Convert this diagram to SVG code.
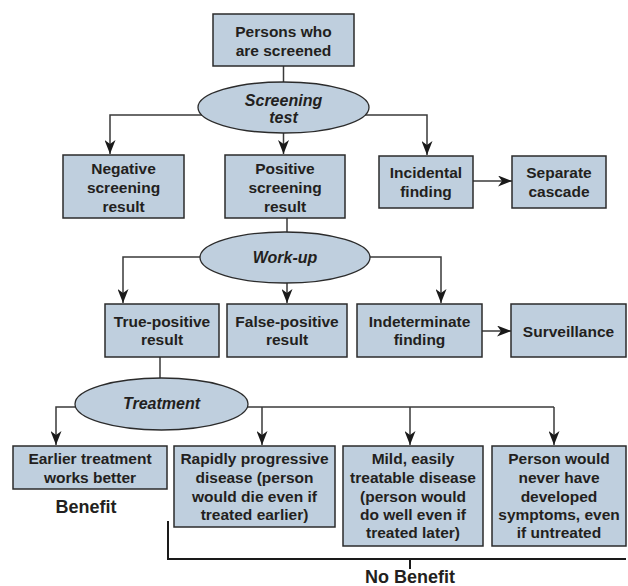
<svg xmlns="http://www.w3.org/2000/svg" width="628" height="586" viewBox="0 0 628 586">
<defs>
<marker id="ah" markerUnits="userSpaceOnUse" markerWidth="14" markerHeight="11" refX="14" refY="5.5" orient="auto">
<path d="M0,0 L14,5.5 L0,11 L4,5.5 Z" fill="#1a1a1a"/>
</marker>
<style>
.box{fill:#bfcfde;stroke:#2b2b2b;stroke-width:1.5}
.ell{fill:#bfcfde;stroke:#2b2b2b;stroke-width:1.3}
.t{font-family:"Liberation Sans",Arial,sans-serif;font-weight:bold;font-size:15.5px;fill:#231f20;text-anchor:middle}
.i{font-style:italic;font-size:16px}
.big{font-size:18px}
.c{fill:none;stroke:#3a3a3a;stroke-width:1.5}
.a{marker-end:url(#ah)}
.br{fill:none;stroke:#1a1a1a;stroke-width:2}
</style>
</defs>
<rect width="628" height="586" fill="#ffffff"/>
<g id="connectors">
<path class="c" d="M283.5,66 V82"/>
<path class="c a" d="M202,115 H110 V154"/>
<path class="c a" d="M283.5,133 V154"/>
<path class="c a" d="M365,115 H427 V155"/>
<path class="c a" d="M473,181 H512"/>
<path class="c" d="M287,218 V232"/>
<path class="c a" d="M200,257 H123 V303"/>
<path class="c a" d="M287,283 V303"/>
<path class="c a" d="M370,257 H441 V303"/>
<path class="c a" d="M482,331 H511"/>
<path class="c" d="M160,357 V378"/>
<path class="c a" d="M76,407 H56 V445"/>
<path class="c" d="M247,407 H554"/>
<path class="c a" d="M262,407 V445"/>
<path class="c a" d="M410,407 V445"/>
<path class="c a" d="M554,407 V445"/>
<path class="br" d="M168,521 V559 H626"/>
<path class="br" d="M410,559 V569"/>
</g>
<g id="persons">
<rect class="box" x="213" y="14" width="141" height="52"/>
<text class="t" x="283.5" y="37">Persons who</text>
<text class="t" x="283.5" y="56">are screened</text>
</g>
<g id="screening-test">
<ellipse class="ell" cx="283.5" cy="107.5" rx="85.5" ry="25.5"/>
<text class="t i" x="283.5" y="106">Screening</text>
<text class="t i" x="283.5" y="123">test</text>
</g>
<g id="negative">
<rect class="box" x="63" y="155" width="121" height="63"/>
<text class="t" x="123.5" y="174">Negative</text>
<text class="t" x="123.5" y="193">screening</text>
<text class="t" x="123.5" y="212">result</text>
</g>
<g id="positive">
<rect class="box" x="225" y="155" width="120" height="63"/>
<text class="t" x="285" y="174">Positive</text>
<text class="t" x="285" y="193">screening</text>
<text class="t" x="285" y="212">result</text>
</g>
<g id="incidental">
<rect class="box" x="379" y="156" width="94" height="52"/>
<text class="t" x="426" y="178">Incidental</text>
<text class="t" x="426" y="197">finding</text>
</g>
<g id="separate">
<rect class="box" x="512" y="156" width="94" height="52"/>
<text class="t" x="559" y="178">Separate</text>
<text class="t" x="559" y="197">cascade</text>
</g>
<g id="work-up">
<ellipse class="ell" cx="285" cy="257.5" rx="85" ry="25.5"/>
<text class="t i" x="285" y="263">Work-up</text>
</g>
<g id="true-positive">
<rect class="box" x="105" y="304" width="114" height="53"/>
<text class="t" x="162" y="327">True-positive</text>
<text class="t" x="162" y="345">result</text>
</g>
<g id="false-positive">
<rect class="box" x="227" y="304" width="120" height="53"/>
<text class="t" x="287" y="327">False-positive</text>
<text class="t" x="287" y="345">result</text>
</g>
<g id="indeterminate">
<rect class="box" x="357" y="304" width="125" height="53"/>
<text class="t" x="419.5" y="327">Indeterminate</text>
<text class="t" x="419.5" y="345">finding</text>
</g>
<g id="surveillance">
<rect class="box" x="511" y="304" width="115" height="53"/>
<text class="t" x="568.5" y="337">Surveillance</text>
</g>
<g id="treatment">
<ellipse class="ell" cx="161.5" cy="404" rx="86.5" ry="26"/>
<text class="t i" x="161.5" y="409">Treatment</text>
</g>
<g id="earlier">
<rect class="box" x="13" y="446" width="154" height="43"/>
<text class="t" x="90" y="464">Earlier treatment</text>
<text class="t" x="90" y="483">works better</text>
</g>
<g id="rapidly">
<rect class="box" x="174" y="446" width="161" height="81"/>
<text class="t" x="254.5" y="464">Rapidly progressive</text>
<text class="t" x="254.5" y="483">disease (person</text>
<text class="t" x="254.5" y="502">would die even if</text>
<text class="t" x="254.5" y="520">treated earlier)</text>
</g>
<g id="mild">
<rect class="box" x="343" y="446" width="140" height="100"/>
<text class="t" x="413" y="464">Mild, easily</text>
<text class="t" x="413" y="483">treatable disease</text>
<text class="t" x="413" y="502">(person would</text>
<text class="t" x="413" y="520">do well even if</text>
<text class="t" x="413" y="538">treated later)</text>
</g>
<g id="never">
<rect class="box" x="492" y="446" width="134" height="100"/>
<text class="t" x="559" y="464">Person would</text>
<text class="t" x="559" y="483">never have</text>
<text class="t" x="559" y="502">developed</text>
<text class="t" x="559" y="520">symptoms, even</text>
<text class="t" x="559" y="538">if untreated</text>
</g>
<g id="benefit">
<text class="t big" x="86" y="513">Benefit</text>
</g>
<g id="no-benefit">
<text class="t big" x="410" y="583">No Benefit</text>
</g>
</svg>
